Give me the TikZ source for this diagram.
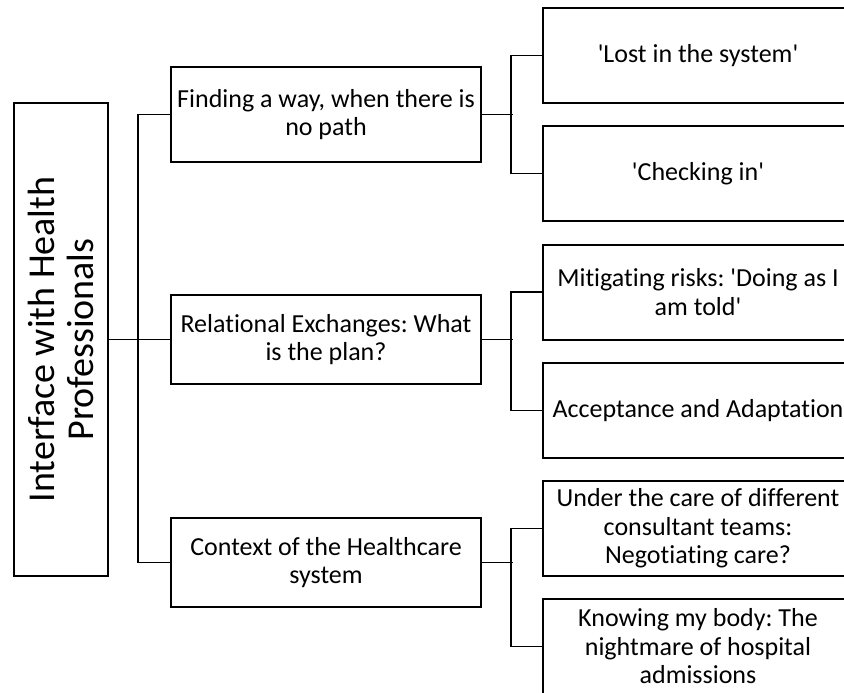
\documentclass[tikz,border=0pt]{standalone}
\usepackage{fontspec}
\setmainfont{Carlito}[Ligatures=NoCommon]
\newcommand{\sq}{\textquotesingle}
\begin{document}
\frenchspacing
\begin{tikzpicture}[x=1pt,y=-1pt,
  box/.style={draw=black,line width=2pt,rectangle,inner sep=0pt,align=center,
    font=\fontsize{26}{28.5}\selectfont},
  rootbox/.style={box,minimum width=94pt,minimum height=473pt},
  midbox/.style={box,minimum width=310pt},
  leafbox/.style={box,minimum width=310pt,minimum height=95pt},
  link/.style={draw=black,line width=1.8pt}]
\useasboundingbox (0,0) rectangle (844,693);
\clip (0,0) rectangle (844,693);

% root
\node[rootbox] (root) at (61,339.5) {};
\node[rotate=90,align=center,font=\fontsize{38}{39}\selectfont] (roottext) at (root.center)
  {Interface with Health\\Professionals};

% themes
\node[midbox,minimum height=95pt] (m1) at (326,114.5) {Finding a way, when there is\\no path};
\node[midbox,minimum height=89pt] (m2) at (326,339.5) {Relational Exchanges: What\\is the plan?};
\node[midbox,minimum height=89pt] (m3) at (326,562.5) {Context of the Healthcare\\system};

% sub-themes
\node[leafbox] (r1) at (698,55.5) {\sq Lost in the system\sq};
\node[leafbox] (r2) at (698,173.5) {\sq Checking in\sq};
\node[leafbox] (r3) at (698,292) {Mitigating risks: \sq Doing as I\\am told\sq};
\node[leafbox] (r4) at (698,410.5) {Acceptance and Adaptation};
\node[leafbox] (r5) at (698,528.5) {Under the care of different\\consultant teams:\\Negotiating care?};
\node[leafbox] (r6) at (698,646.5) {Knowing my body: The\\nightmare of hospital\\admissions};

% root to themes
\draw[link] (root.east) -- (m2.west);
\draw[link] (m1.west) -- ++(-32,0) |- (m3.west);

% themes to sub-themes
\draw[link] (m1.east) -- ++(31,0);
\draw[link] (r1.west) -- ++(-31,0) |- (r2.west);
\draw[link] (m2.east) -- ++(31,0);
\draw[link] (r3.west) -- ++(-31,0) |- (r4.west);
\draw[link] (m3.east) -- ++(31,0);
\draw[link] (r5.west) -- ++(-31,0) |- (r6.west);
\end{tikzpicture}
\end{document}
